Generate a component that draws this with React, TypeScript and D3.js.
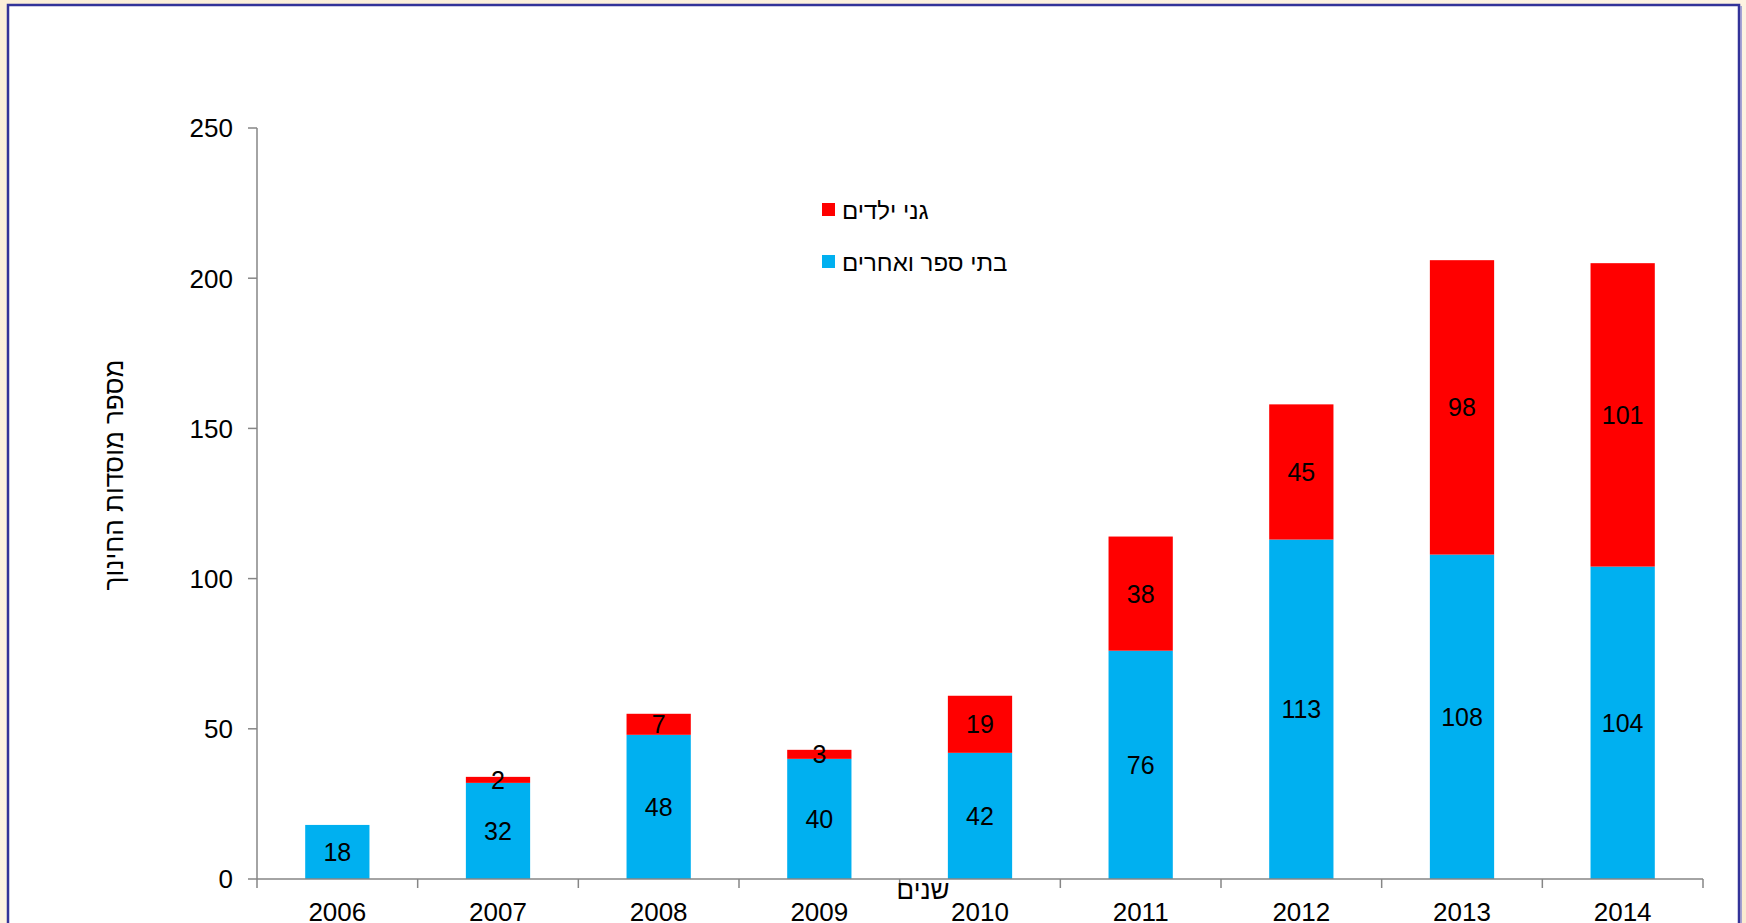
import React from "react";
import * as d3 from "d3";

const years = ["2006", "2007", "2008", "2009", "2010", "2011", "2012", "2013", "2014"];
const schools = [18, 32, 48, 40, 42, 76, 113, 108, 104];
const kindergartens = [0, 2, 7, 3, 19, 38, 45, 98, 101];
const yTicks = [0, 50, 100, 150, 200, 250];
const seriesNames = ["גני ילדים", "בתי ספר ואחרים"];
const seriesColors = ["#FF0000", "#00B0F0"];

const W = 1746;
const H = 923;
const FONT = "'Liberation Sans', Arial, sans-serif";

export default function App() {
  const x = d3.scaleBand<string>().domain(years).range([257, 1703]).paddingInner(0.6).paddingOuter(0.3);
  const band = d3.scaleBand<string>().domain(years).range([257, 1703]);
  const y = d3.scaleLinear().domain([0, 250]).range([879, 128]);
  const stack = d3.stack<number>().keys(["s", "k"]).value((i, key) => (key === "s" ? schools[i] : kindergartens[i]));
  const series = stack(d3.range(years.length));
  const colors: Record<string, string> = { s: "#00B0F0", k: "#FF0000" };
  const axisColor = "#868686";

  return (
    <div style={{ position: "absolute", left: 0, top: 0 }}>
      <svg width={W} height={H} style={{ display: "block" }}>
        <defs>
          <linearGradient id="bg" x1="0" y1="0" x2="1" y2="1">
            <stop offset="0" stopColor="#FBEFD8" />
            <stop offset="0.5" stopColor="#FDF3E2" />
            <stop offset="1" stopColor="#FBEBD0" />
          </linearGradient>
        </defs>
        <rect x={0} y={0} width={W} height={H} fill="url(#bg)" />
        <rect x={8} y={5} width={1731} height={H + 20} fill="#FFFFFF" stroke="#333399" strokeWidth={2.5} />
        <line x1={1741} y1={6} x2={1741} y2={H} stroke="#8A8ACF" strokeWidth={1.5} />

        {/* bars */}
        {series.map((s) =>
          s.map((d, i) => {
            const v = d[1] - d[0];
            if (v <= 0) return null;
            return (
              <rect
                key={s.key + i}
                x={x(years[i])!}
                y={y(d[1])}
                width={x.bandwidth()}
                height={y(d[0]) - y(d[1])}
                fill={colors[s.key]}
              />
            );
          })
        )}
        {/* labels */}
        {series.map((s) =>
          s.map((d, i) => {
            const v = d[1] - d[0];
            if (v <= 0) return null;
            return (
              <text
                key={"t" + s.key + i}
                x={x(years[i])! + x.bandwidth() / 2}
                y={(y(d[0]) + y(d[1])) / 2}
                dy="0.36em"
                textAnchor="middle"
                fontFamily={FONT}
                fontSize={25}
                fill="#000"
              >
                {v}
              </text>
            );
          })
        )}

        {/* y axis */}
        <line x1={257} y1={y(250)} x2={257} y2={y(0)} stroke={axisColor} strokeWidth={1.5} />
        {yTicks.map((t) => (
          <g key={t}>
            <line x1={248} x2={257} y1={y(t)} y2={y(t)} stroke={axisColor} strokeWidth={1.5} />
            <text x={233} y={y(t)} dy="0.36em" textAnchor="end" fontFamily={FONT} fontSize={26} fill="#000">
              {t}
            </text>
          </g>
        ))}
        {/* x axis */}
        <line x1={257} y1={y(0)} x2={1703} y2={y(0)} stroke={axisColor} strokeWidth={1.5} />
        {years.map((yr, i) => (
          <g key={yr}>
            <line x1={band(yr)!} x2={band(yr)!} y1={y(0)} y2={y(0) + 9} stroke={axisColor} strokeWidth={1.5} />
            {i === years.length - 1 && (
              <line x1={1703} x2={1703} y1={y(0)} y2={y(0) + 9} stroke={axisColor} strokeWidth={1.5} />
            )}
            <text x={band(yr)! + band.bandwidth() / 2} y={921} textAnchor="middle" fontFamily={FONT} fontSize={26} fill="#000">
              {yr}
            </text>
          </g>
        ))}

        {/* axis titles */}
        <text x={923} y={899} textAnchor="middle" fontFamily={FONT} fontSize={26} fill="#000">
          שנים
        </text>
        <text
          transform="translate(123,475) rotate(-90)"
          textAnchor="middle"
          fontFamily={FONT}
          fontSize={26}
          fill="#000"
        >
          מספר מוסדות החינוך
        </text>

        {/* legend */}
        {seriesNames.map((n, i) => (
          <g key={n} transform={`translate(822,${203 + i * 52})`}>
            <rect x={0} y={0} width={13} height={13} fill={seriesColors[i]} />
            <text x={20} y={7} dy="0.36em" textAnchor="start" fontFamily={FONT} fontSize={24} fill="#000">
              {n}
            </text>
          </g>
        ))}
      </svg>
    </div>
  );
}
